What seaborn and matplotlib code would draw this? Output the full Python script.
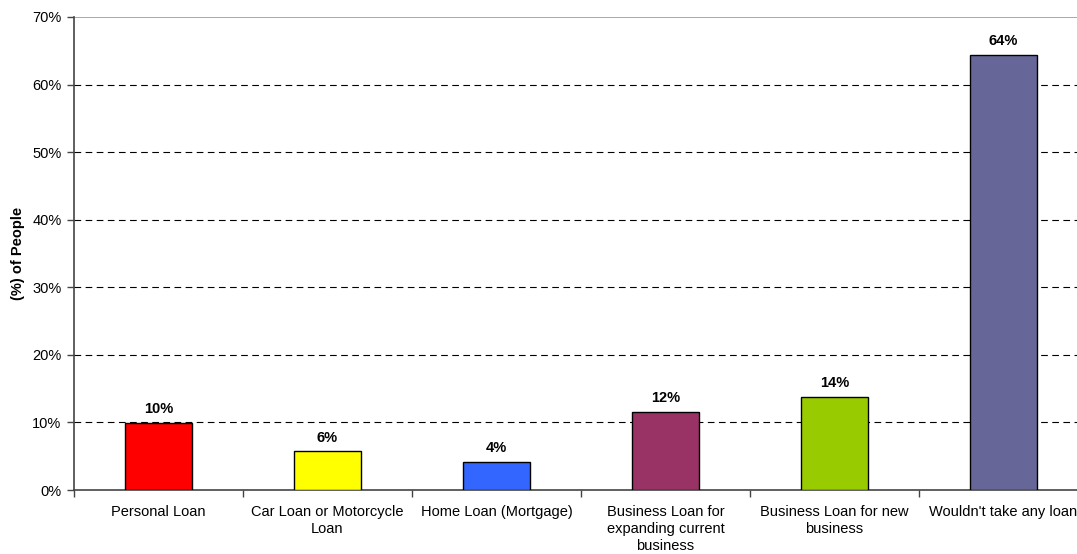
import matplotlib
matplotlib.use("Agg")
import matplotlib.pyplot as plt
import seaborn as sns
import pandas as pd
import numpy as np
from matplotlib.ticker import FixedLocator, PercentFormatter

categories = ["Personal Loan", "Car Loan or Motorcycle\nLoan", "Home Loan (Mortgage)",
              "Business Loan for\nexpanding current\nbusiness", "Business Loan for new\nbusiness",
              "Wouldn't take any loan"]
values = [9.9, 5.7, 4.2, 11.6, 13.7, 64.4]
colors = ["#FF0000", "#FFFF00", "#3366FF", "#993366", "#99CC00", "#666699"]
yticks = [0, 10, 20, 30, 40, 50, 60, 70]

sns.set_style("white")
plt.rcParams['font.family'] = ['Liberation Sans', 'DejaVu Sans']
plt.rcParams['text.color'] = 'black'
plt.rcParams['xtick.color'] = 'black'
plt.rcParams['ytick.color'] = 'black'
plt.rcParams['axes.labelcolor'] = 'black'

df = pd.DataFrame({"cat": categories, "val": values})

fig = plt.figure(figsize=(10.77, 5.54), dpi=100)
W, H = 1077, 554
ax = fig.add_axes([74 / W, (H - 490) / H, 1014 / W, 473 / H])

sns.barplot(data=df, x="cat", y="val", hue="cat", palette=colors, legend=False,
            saturation=1, width=0.40, edgecolor="black", linewidth=1, ax=ax, zorder=3)

ax.set_ylim(0, 70)
ax.set_xlim(-0.5, len(categories) - 0.5)
ax.yaxis.set_major_locator(FixedLocator(yticks))
ax.yaxis.set_major_formatter(PercentFormatter(decimals=0))
for y in yticks[1:-1]:
    ax.axhline(y, color="black", linestyle=(0, (6, 4)), linewidth=0.8, zorder=1)
ax.axhline(70, color="#999999", linewidth=1.2, zorder=1)

for s in ["top", "right"]:
    ax.spines[s].set_visible(False)
for s in ["left", "bottom"]:
    ax.spines[s].set_color("#444444")
    ax.spines[s].set_linewidth(1.2)

ax.tick_params(axis="y", direction="out", length=5, width=1, color="#444444",
               labelsize=10.5, left=True, pad=4, labelcolor="black")
ax.tick_params(axis="x", which="major", length=0, labelsize=10.5, pad=11, labelcolor="black")
for t in ax.get_xticklabels():
    t.set_linespacing(1.25)
ax.set_xticks(np.arange(-0.5, len(categories)), minor=True)
ax.tick_params(axis="x", which="minor", direction="out", length=5, width=1, color="#444444", bottom=True)

ax.set_xlabel("")
ax.set_ylabel("(%) of People", fontsize=10.5, fontweight="bold", labelpad=5, color="black")

for c in ax.containers:
    ax.bar_label(c, labels=[f"{v:.0f}%" for v in c.datavalues], padding=5,
                 fontsize=10.5, fontweight="bold", color="black")

fig.savefig("out.png", dpi=100)
